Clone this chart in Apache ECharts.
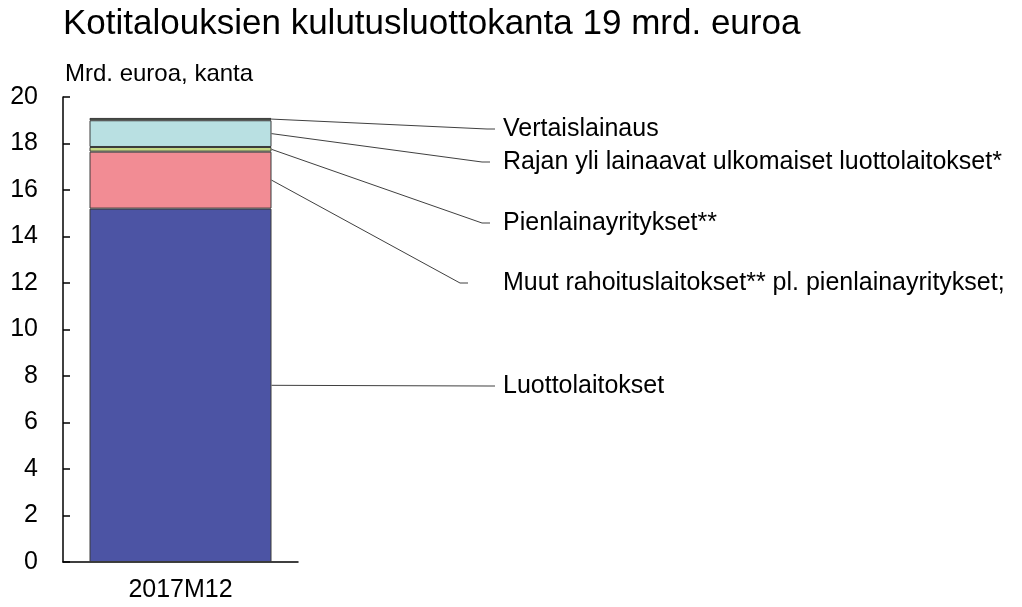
<!DOCTYPE html>
<html><head><meta charset="utf-8">
<script src="https://cdn.jsdelivr.net/npm/echarts@6/dist/echarts.min.js"></script>
<style>html,body{margin:0;padding:0;background:#fff}#c{width:1022px;height:607px}</style>
</head><body><div id="c"></div>
<script>
const categories = ['2017M12'];
const seriesNames = [
  'Luottolaitokset',
  'Muut rahoituslaitokset** pl. pienlainayritykset;',
  'Pienlainayritykset**',
  'Rajan yli lainaavat ulkomaiset luottolaitokset*',
  'Vertaislainaus'
];
const luottolaitokset = [15.2];
const muutRahoitus = [2.45];
const pienlaina = [0.2];
const rajanYli = [1.15];
const vertaislainaus = [0.1];
const yTickLabels = [0, 2, 4, 6, 8, 10, 12, 14, 16, 18, 20];

const seriesValues = [luottolaitokset, muutRahoitus, pienlaina, rajanYli, vertaislainaus];
const colors = ['#4c54a4', '#f28c94', '#c4d884', '#b9e0e2', '#3d5e3d'];
const labelY = [386, 283, 223, 162, 129];
const lineEndX = [495, 468, 490, 490, 495];
const FONT = '"Liberation Sans", Arial, sans-serif';
const BAR_W = 182;

const chart = echarts.init(document.getElementById('c'), null, {renderer: 'canvas'});
const option = {
  animation: false,
  backgroundColor: '#fff',
  title: [
    {text: 'Kotitalouksien kulutusluottokanta 19 mrd. euroa', left: 58, top: 2,
     textStyle: {fontFamily: FONT, fontSize: 35, fontWeight: 'normal', color: '#000'}},
    {text: 'Mrd. euroa, kanta', left: 60, top: 57,
     textStyle: {fontFamily: FONT, fontSize: 24, fontWeight: 'normal', color: '#000'}}
  ],
  grid: {left: 63, right: 724, top: 97, bottom: 45, containLabel: false},
  xAxis: {
    type: 'category', data: categories,
    axisLine: {lineStyle: {color: '#000', width: 1.5}},
    axisTick: {show: false},
    axisLabel: {fontFamily: FONT, fontSize: 25, color: '#000', margin: 16}
  },
  yAxis: {
    type: 'value', min: 0, max: 20, interval: 2,
    splitLine: {show: false},
    axisLine: {show: true, lineStyle: {color: '#000', width: 1.5}},
    axisTick: {show: true, inside: true, length: 7, lineStyle: {color: '#000', width: 1.5}},
    axisLabel: {fontFamily: FONT, fontSize: 25, color: '#000', margin: 25,
      formatter: v => yTickLabels.includes(v) ? String(v) : ''}
  },
  series: seriesNames.map((n, i) => ({
    name: n, type: 'bar', stack: 'total', barWidth: BAR_W,
    data: seriesValues[i],
    itemStyle: {color: colors[i], borderColor: '#3a3a3a', borderWidth: 1}
  }))
};
chart.setOption(option);

const elements = [];
let base = 0;
seriesValues.forEach((vals, i) => {
  const v = vals[0];
  const mid = base + v / 2;
  base += v;
  const p = chart.convertToPixel({gridIndex: 0}, [0, mid]);
  const sx = p[0] + BAR_W / 2;
  const sy = p[1];
  const ex = lineEndX[i], ey = labelY[i];
  elements.push({
    type: 'polyline', silent: true,
    shape: {points: [[sx, sy], [ex - 8, ey], [ex, ey]]},
    style: {stroke: '#404040', lineWidth: 1, fill: null}
  });
  elements.push({
    type: 'text', silent: true, x: 503, y: ey,
    style: {text: seriesNames[i], fontFamily: FONT, fontSize: 25, fill: '#000',
            verticalAlign: 'middle', align: 'left'}
  });
});
chart.setOption({graphic: {elements}});
</script></body></html>
